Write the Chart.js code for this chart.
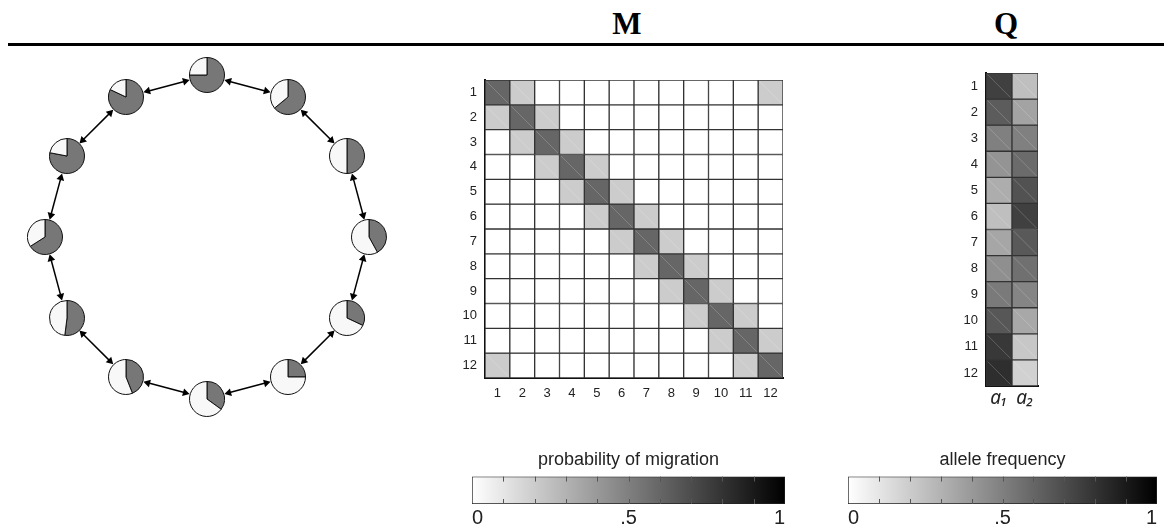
<!DOCTYPE html>
<html>
<head>
<meta charset="utf-8">
<script src="https://cdn.jsdelivr.net/npm/chart.js@4.4.1/dist/chart.umd.min.js"></script>
<style>
  html, body { margin: 0; padding: 0; background: #fff; }
  body { width: 1164px; height: 529px; position: relative; overflow: hidden; }
  canvas { position: absolute; }
  .rule { position: absolute; left: 8px; right: 0; top: 43px; height: 3px; background: #000; }
  .head { position: absolute; top: 6px; line-height: 40px; transform: translateX(-50%);
          font: bold 31px "Liberation Serif", "Times New Roman", serif; color: #000; }
</style>
</head>
<body>
<div class="rule"></div>
<div class="head" style="left:627px">M</div>
<div class="head" style="left:1006px">Q</div>

<canvas id="ring" width="414" height="380" style="left:0;top:47px"></canvas>
<canvas id="mat" width="332" height="326" style="left:455px;top:76px"></canvas>
<canvas id="qmat" width="86" height="347" style="left:956px;top:69px"></canvas>
<canvas id="cbM" width="325" height="87" style="left:466px;top:445px"></canvas>
<canvas id="cbQ" width="321" height="87" style="left:842px;top:445px"></canvas>

<script>
// populations and alleles
const pops = ['1', '2', '3', '4', '5', '6', '7', '8', '9', '10', '11', '12'];
const alleles = ['a\u2081', 'a\u2082'];

// allele frequencies per population (pies and Q matrix)
const a1 = [0.75, 0.64, 0.50, 0.42, 0.32, 0.25, 0.35, 0.44, 0.52, 0.66, 0.78, 0.82];
const a2 = [0.25, 0.36, 0.50, 0.58, 0.68, 0.75, 0.65, 0.56, 0.48, 0.34, 0.22, 0.18];

// migration matrix M (row = from, col = to)
const M = [
  [.6, .2, 0, 0, 0, 0, 0, 0, 0, 0, 0, .2],
  [.2, .6, .2, 0, 0, 0, 0, 0, 0, 0, 0, 0],
  [0, .2, .6, .2, 0, 0, 0, 0, 0, 0, 0, 0],
  [0, 0, .2, .6, .2, 0, 0, 0, 0, 0, 0, 0],
  [0, 0, 0, .2, .6, .2, 0, 0, 0, 0, 0, 0],
  [0, 0, 0, 0, .2, .6, .2, 0, 0, 0, 0, 0],
  [0, 0, 0, 0, 0, .2, .6, .2, 0, 0, 0, 0],
  [0, 0, 0, 0, 0, 0, .2, .6, .2, 0, 0, 0],
  [0, 0, 0, 0, 0, 0, 0, .2, .6, .2, 0, 0],
  [0, 0, 0, 0, 0, 0, 0, 0, .2, .6, .2, 0],
  [0, 0, 0, 0, 0, 0, 0, 0, 0, .2, .6, .2],
  [.2, 0, 0, 0, 0, 0, 0, 0, 0, 0, .2, .6],
];

// colour bar ticks
const cbTicks = [0, 0.5, 1];
const cbTickLabels = ['0', '.5', '1'];
const cbMinor = [0.1, 0.2, 0.3, 0.4, 0.5, 0.6, 0.7, 0.8, 0.9];
const cbTitles = ['probability of migration', 'allele frequency'];

Chart.defaults.font.family = '"Liberation Sans", Arial, sans-serif';
Chart.defaults.color = '#222';
Chart.defaults.animation = false;
Chart.defaults.events = [];
Chart.defaults.plugins.legend.display = false;
Chart.defaults.plugins.tooltip.enabled = false;

const gray = v => {
  const g = Math.round(255 * (1 - v));
  return `rgb(${g},${g},${g})`;
};

// ---------- ring of populations ----------
const ringCanvas = document.getElementById('ring');
const nodes = pops.map((p, i) => ({ x: Math.sin(i * Math.PI / 6), y: Math.cos(i * Math.PI / 6) }));
const gap = 0.139;
const arrows = nodes.map((a, i) => {
  const b = nodes[(i + 1) % nodes.length];
  const dx = b.x - a.x, dy = b.y - a.y, len = Math.hypot(dx, dy);
  const ux = dx / len, uy = dy / len;
  const rot = Math.atan2(ux, uy) * 180 / Math.PI;
  return {
    data: [
      { x: a.x + ux * gap, y: a.y + uy * gap },
      { x: b.x - ux * gap, y: b.y - uy * gap },
    ],
    showLine: true,
    borderColor: '#000',
    borderWidth: 1.5,
    pointStyle: 'triangle',
    pointRadius: 4.5,
    pointRotation: [rot + 180, rot],
    pointBackgroundColor: '#000',
    pointBorderWidth: 0,
  };
});

const ring = new Chart(ringCanvas, {
  type: 'scatter',
  data: { datasets: arrows },
  options: {
    responsive: false,
    layout: { padding: 0 },
    scales: {
      x: { type: 'linear', display: false, min: -1.25, max: 1.25 },
      y: { type: 'linear', display: false, min: -1.1475, max: 1.1475 },
    },
  },
});

const pieSize = 36;
nodes.forEach((n, i) => {
  const px = ring.scales.x.getPixelForValue(n.x);
  const py = ring.scales.y.getPixelForValue(n.y);
  const c = document.createElement('canvas');
  c.width = pieSize;
  c.height = pieSize;
  c.style.left = (ringCanvas.offsetLeft + px - pieSize / 2) + 'px';
  c.style.top = (ringCanvas.offsetTop + py - pieSize / 2) + 'px';
  document.body.appendChild(c);
  new Chart(c, {
    type: 'pie',
    data: {
      labels: alleles,
      datasets: [{
        data: [a1[i], a2[i]],
        backgroundColor: ['#777777', '#f8f8f8'],
        borderColor: '#111',
        borderWidth: 1,
        offset: 0,
        hoverOffset: 0,
      }],
    },
    options: { responsive: false, layout: { padding: 0 } },
  });
});

// ---------- heat matrices as stacked bars ----------
const cellLines = {
  id: 'cellLines',
  afterDatasetsDraw(chart) {
    const ctx = chart.ctx;
    ctx.save();
    ctx.strokeStyle = 'rgba(255,255,255,0.28)';
    ctx.lineWidth = 0.7;
    chart.data.datasets.forEach((ds, di) => {
      chart.getDatasetMeta(di).data.forEach(bar => {
        const l = bar.x - bar.width / 2, r = bar.x + bar.width / 2;
        const t = Math.min(bar.y, bar.base), b = Math.max(bar.y, bar.base);
        ctx.beginPath();
        ctx.moveTo(l + 1.5, t + 1.5);
        ctx.lineTo(r - 1.5, b - 1.5);
        ctx.stroke();
      });
    });
    ctx.restore();
  },
};

function matrixChart(id, cols, rowColors, xTickFont, xPad, xHeight) {
  return new Chart(document.getElementById(id), {
    type: 'bar',
    data: {
      labels: cols,
      datasets: rowColors.map((colors, r) => ({
        label: pops[r],
        data: cols.map(() => 1),
        backgroundColor: colors,
        borderColor: '#333',
        borderWidth: 1,
        borderSkipped: false,
        barPercentage: 1,
        categoryPercentage: 1,
      })),
    },
    options: {
      responsive: false,
      layout: { padding: { top: 4, right: 4, left: 0, bottom: 0 } },
      scales: {
        x: {
          stacked: true,
          grid: { display: false, drawTicks: false },
          border: { display: true, color: '#111', width: 2 },
          ticks: { font: xTickFont, color: '#222', padding: xPad, maxRotation: 0, autoSkip: false },
          afterFit: s => { s.height = xHeight; s.paddingLeft = 0; s.paddingRight = 0; },
        },
        y: {
          type: 'linear',
          stacked: true,
          reverse: true,
          min: 0,
          max: pops.length,
          grid: { display: false, drawTicks: false },
          border: { display: true, color: '#111', width: 2 },
          afterBuildTicks: s => { s.ticks = pops.map((p, i) => ({ value: i + 0.5 })); },
          ticks: { font: { size: 13 }, color: '#222', padding: 8, callback: v => pops[Math.floor(v)] },
          afterFit: s => { s.width = 30; s.paddingTop = 0; s.paddingBottom = 0; },
        },
      },
    },
    plugins: [cellLines],
  });
}

matrixChart('mat', pops, M.map(row => row.map(gray)), { size: 13 }, 8, 24);
matrixChart('qmat', alleles, pops.map((p, r) => [gray(a1[r]), gray(a2[r])]),
  { size: 19, style: 'italic', family: '"Noto Sans", "DejaVu Sans", sans-serif' }, 1, 30);

// ---------- colour bars ----------
const innerTicks = {
  id: 'innerTicks',
  afterDatasetsDraw(chart) {
    const { ctx, chartArea: a, scales: { x } } = chart;
    ctx.save();
    ctx.strokeStyle = '#555';
    ctx.lineWidth = 1;
    cbMinor.forEach(v => {
      const px = Math.round(x.getPixelForValue(v)) + 0.5;
      ctx.beginPath();
      ctx.moveTo(px, a.top);
      ctx.lineTo(px, a.top + 5);
      ctx.moveTo(px, a.bottom);
      ctx.lineTo(px, a.bottom - 5);
      ctx.stroke();
    });
    ctx.restore();
  },
};

function colourBar(id, title) {
  return new Chart(document.getElementById(id), {
    type: 'bar',
    data: {
      labels: [title],
      datasets: [{
        data: [1],
        backgroundColor: ctx => {
          const area = ctx.chart.chartArea;
          if (!area) return '#888';
          const g = ctx.chart.ctx.createLinearGradient(area.left, 0, area.right, 0);
          g.addColorStop(0, '#ffffff');
          g.addColorStop(1, '#000000');
          return g;
        },
        borderColor: '#222',
        borderWidth: 1,
        borderSkipped: false,
        barPercentage: 1,
        categoryPercentage: 1,
      }],
    },
    options: {
      indexAxis: 'y',
      responsive: false,
      layout: { padding: { left: 6, right: 6, top: 0, bottom: 0 } },
      plugins: {
        title: {
          display: true,
          text: title,
          color: '#222',
          font: { size: 18, weight: 'normal' },
          padding: { top: 4, bottom: 6 },
        },
      },
      scales: {
        y: { display: false },
        x: {
          type: 'linear',
          min: 0,
          max: 1,
          grid: { display: false, drawTicks: false },
          border: { display: false },
          afterBuildTicks: s => { s.ticks = cbTicks.map(v => ({ value: v })); },
          ticks: {
            font: { size: 20 },
            color: '#222',
            padding: 2,
            align: 'inner',
            callback: (v, i) => cbTickLabels[i],
          },
          afterFit: s => { s.height = 28; s.paddingLeft = 0; s.paddingRight = 0; },
        },
      },
    },
    plugins: [innerTicks],
  });
}

colourBar('cbM', cbTitles[0]);
colourBar('cbQ', cbTitles[1]);
</script>
</body>
</html>
